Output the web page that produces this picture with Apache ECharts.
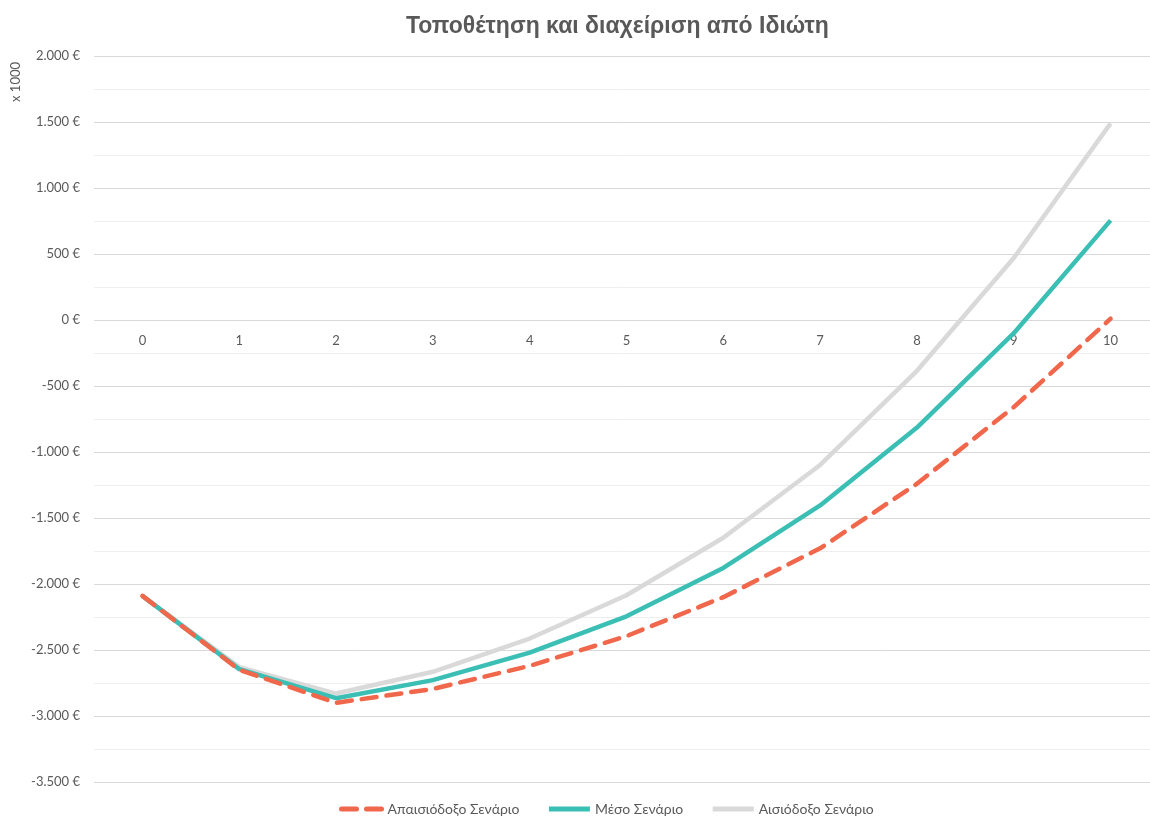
<!DOCTYPE html>
<html>
<head>
<meta charset="utf-8">
<script src="https://cdn.jsdelivr.net/npm/echarts@6/dist/echarts.min.js"></script>
<style>
html,body{margin:0;padding:0;background:#fff;}
#chart{width:1150px;height:816px;}
</style>
</head>
<body>
<div id="chart"></div>
<script>
var categories = ['0','1','2','3','4','5','6','7','8','9','10'];
var seriesNames = ['Απαισιόδοξο Σενάριο','Μέσο Σενάριο','Αισιόδοξο Σενάριο'];
var pessimistic = [-2090, -2650, -2900, -2795, -2620, -2395, -2100, -1730, -1240, -660, 10];
var average = [-2090, -2645, -2865, -2728, -2520, -2245, -1878, -1405, -815, -100, 755];
var optimistic = [-2090, -2630, -2830, -2665, -2413, -2085, -1650, -1098, -385, 470, 1490];
var titleText = 'Τοποθέτηση και διαχείριση από Ιδιώτη';
var unitText = 'x 1000';

function fmt(v){
  var neg = v < 0; var a = Math.abs(v);
  var s = String(a).replace(/\B(?=(\d{3})+(?!\d))/g, '.');
  return (neg ? '-' : '') + s + ' €';
}

var Y_MIN = -3500, Y_MAX = 2000;
var GRID_TOP = 56, GRID_BOTTOM = 34, H = 816;
var gridH = H - GRID_TOP - GRID_BOTTOM;
var zeroOffset = gridH * (0 - Y_MIN) / (Y_MAX - Y_MIN);

var labelFont = 'Lato, "Open Sans", sans-serif';
var chart = echarts.init(document.getElementById('chart'));
chart.setOption({
  animation: false,
  backgroundColor: '#ffffff',
  title: {
    text: titleText,
    left: 401, top: 10,
    textStyle: {fontFamily: '"Liberation Sans", Arial, sans-serif', fontSize: 23, fontWeight: 'bold', color: '#595959'}
  },
  graphic: [{
    type: 'text',
    left: 9, top: 62,
    rotation: Math.PI/2,
    style: {text: unitText, font: '13px ' + labelFont, fill: '#595959'}
  }],
  legend: {
    top: 797, left: 334,
    itemWidth: 41, itemHeight: 14, itemGap: 27,
    itemStyle: {opacity: 0},
    lineStyle: {width: 5},
    textStyle: {fontFamily: labelFont, fontSize: 14, color: '#595959'},
    data: seriesNames
  },
  grid: {left: 94, width: 1065, top: GRID_TOP, bottom: GRID_BOTTOM, containLabel: false, outerBoundsMode: 'none'},
  xAxis: {
    type: 'category',
    data: categories,
    boundaryGap: true,
    position: 'bottom',
    offset: -zeroOffset,
    axisLine: {show: false, onZero: false},
    axisTick: {show: false},
    axisLabel: {fontFamily: labelFont, fontSize: 13, color: '#595959', margin: 14},
    splitLine: {show: false}
  },
  yAxis: {
    type: 'value',
    min: Y_MIN, max: Y_MAX, interval: 500,
    axisLine: {show: false},
    axisTick: {show: false},
    axisLabel: {fontFamily: labelFont, fontSize: 13, color: '#595959', margin: 14, formatter: fmt},
    splitLine: {show: true, lineStyle: {color: '#D9D9D9', width: 1}},
    minorTick: {show: false, splitNumber: 2},
    minorSplitLine: {show: true, lineStyle: {color: '#EEEEEE', width: 1}}
  },
  series: [
    {name: seriesNames[2], type: 'line', data: optimistic, symbol: 'none', z: 2,
     color: '#D9D9D9', lineStyle: {color: '#D9D9D9', width: 4.5}},
    {name: seriesNames[1], type: 'line', data: average, symbol: 'none', z: 3,
     color: '#3BBFB5', lineStyle: {color: '#3BBFB5', width: 4.5}},
    {name: seriesNames[0], type: 'line', data: pessimistic, symbol: 'none', z: 4,
     color: '#F0674C', lineStyle: {color: '#F0674C', width: 4.5, type: [15, 10], cap: 'round'}}
  ]
});
</script>
</body>
</html>
